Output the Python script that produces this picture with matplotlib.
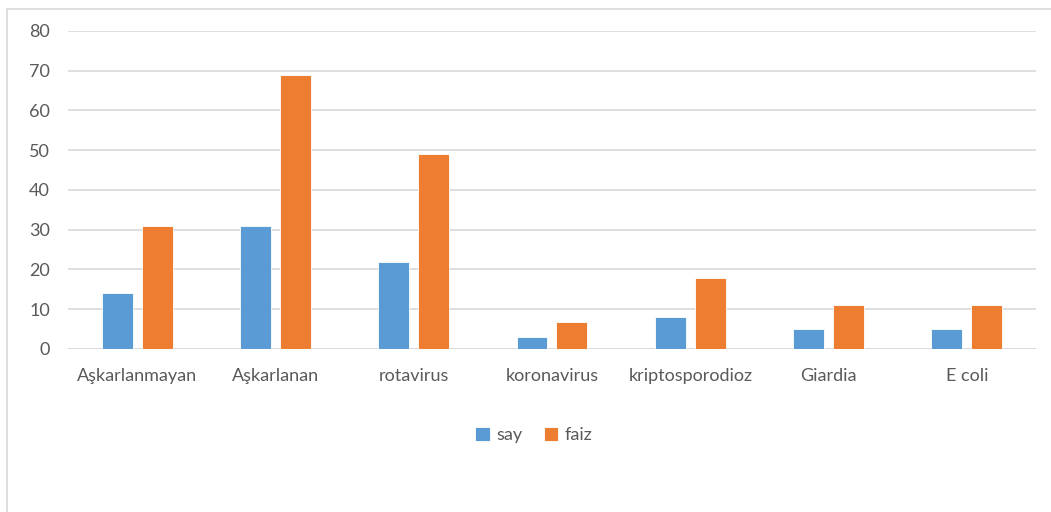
import matplotlib
matplotlib.use("Agg")
import matplotlib.pyplot as plt
import numpy as np
from matplotlib.patches import Rectangle

categories = ["Aşkarlanmayan", "Aşkarlanan", "rotavirus", "koronavirus",
              "kriptosporodioz", "Giardia", "E coli"]
say = [14, 31, 22, 3, 8, 5, 5]
faiz = [31, 69, 49, 6.7, 17.8, 11, 11]
yticks = [0, 10, 20, 30, 40, 50, 60, 70, 80]

BLUE = "#5B9BD5"
ORANGE = "#ED7D31"
TEXT = "#595959"
GRID = "#D9D9D9"

plt.rcParams["font.family"] = ["Lato", "DejaVu Sans"]

fig = plt.figure(figsize=(10.51, 5.12), dpi=100)
ax = fig.add_axes([0.0647, 0.3184, 0.921, 0.6211])

x = np.arange(len(categories))
w = 0.224
off = (w + 0.065) / 2
ax.bar(x - off, say, w, color=BLUE, edgecolor="white", linewidth=0.6,
       label="say", zorder=3)
ax.bar(x + off, faiz, w, color=ORANGE, edgecolor="white", linewidth=0.6,
       label="faiz", zorder=3)

ax.set_xlim(-0.5, len(categories) - 0.5)
ax.set_ylim(0, 80)
ax.set_yticks(yticks)
ax.set_xticks(x)
ax.set_xticklabels(categories)
ax.yaxis.grid(True, color=GRID, linewidth=1.2, zorder=0)
for s in ax.spines.values():
    s.set_visible(False)
ax.axhline(0, color=GRID, linewidth=1.2, zorder=2)
ax.tick_params(axis="both", length=0, colors=TEXT, labelsize=13)
ax.tick_params(axis="y", pad=13)
ax.tick_params(axis="x", pad=14)

leg = fig.legend(loc="center", bbox_to_anchor=(0.508, 0.15), ncol=2,
                 frameon=False, fontsize=13, handlelength=0.8,
                 handleheight=0.8, handletextpad=0.35, columnspacing=1.2)
for t in leg.get_texts():
    t.set_color(TEXT)

# chart border (extends past the right and bottom edges)
fig.add_artist(Rectangle((7 / 1051, -0.2), 1.2, 1 - 9 / 512 + 0.2,
                         transform=fig.transFigure, fill=False,
                         edgecolor=GRID, linewidth=1.2))

fig.savefig("out.png", dpi=100, facecolor="white")
